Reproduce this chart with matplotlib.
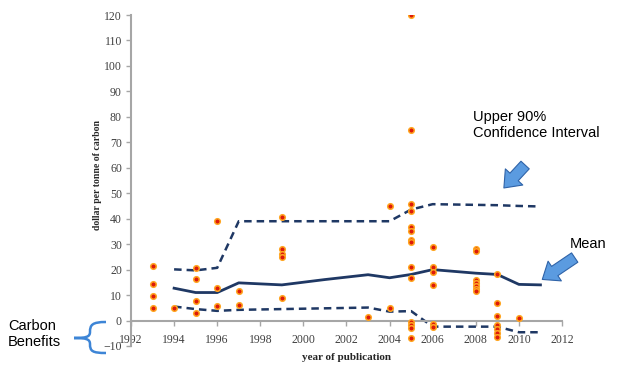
import matplotlib
matplotlib.use("Agg")
import matplotlib.pyplot as plt
from matplotlib.patches import FancyArrowPatch, PathPatch
from matplotlib.path import Path

# scattered study estimates (year, dollar per tonne of carbon)
pt_years = [1993, 1993, 1993, 1993,
            1994,
            1995, 1995, 1995, 1995,
            1996, 1996, 1996,
            1997, 1997,
            1999, 1999, 1999, 1999, 1999,
            2003,
            2004, 2004,
            2005, 2005, 2005, 2005, 2005, 2005, 2005, 2005, 2005, 2005, 2005, 2005, 2005, 2005,
            2006, 2006, 2006, 2006, 2006, 2006,
            2008, 2008, 2008, 2008, 2008, 2008, 2008,
            2009, 2009, 2009, 2009, 2009, 2009, 2009,
            2010]
pt_values = [21.3, 14.2, 9.8, 4.8,
             5.1,
             20.7, 16.4, 7.8, 2.9,
             39.0, 12.9, 5.9,
             11.5, 6.0,
             40.6, 28.1, 26.0, 25.1, 8.8,
             1.3,
             45.0, 5.0,
             120.0, 75.0, 45.9, 43.0, 36.9, 35.0, 31.8, 30.7, 20.9, 16.8, -0.5, -1.6, -2.8, -7.0,
             28.9, 21.0, 18.9, 13.8, -1.3, -2.4,
             28.2, 27.3, 16.1, 14.7, 13.5, 12.5, 11.5,
             18.1, 7.0, 1.7, -1.6, -3.3, -4.8, -6.3,
             0.9]

mean_years = [1994, 1995, 1996, 1997, 1999, 2001, 2003, 2004, 2005, 2006, 2008, 2009, 2010, 2011]
mean_values = [12.7, 11.0, 11.0, 14.8, 14.0, 16.1, 18.0, 16.8, 18.1, 20.0, 18.6, 18.1, 14.2, 14.0]

ci_years = [1994, 1995, 1996, 1997, 1999, 2003, 2004, 2005, 2006, 2009, 2010, 2011]
upper_values = [20.1, 19.7, 20.7, 39.0, 39.0, 39.0, 39.0, 43.6, 45.7, 45.3, 45.0, 44.8]
lower_values = [5.5, 4.5, 3.8, 4.2, 4.5, 5.1, 3.5, 3.7, -2.4, -2.4, -4.6, -4.6]

x_ticks = list(range(1992, 2013, 2))
y_ticks = list(range(-10, 121, 10))

W, H = 625, 380
fig = plt.figure(figsize=(W / 100, H / 100), dpi=100)
ax = fig.add_axes([131 / W, 1 - 346 / H, (562 - 131) / W, (346 - 15) / H])


def px(x, y):
    # figure pixel (from top-left) -> figure fraction
    return (x / W, 1 - y / H)


navy = '#1f3864'
ax.plot(ci_years, upper_values, color=navy, lw=1.8, ls=(0, (3, 2)), zorder=2)
ax.plot(ci_years, lower_values, color=navy, lw=1.8, ls=(0, (3, 2)), zorder=2)
ax.plot(mean_years, mean_values, color=navy, lw=2.0, zorder=2)
ax.plot(pt_years, pt_values, ls='none', marker='o', markersize=4.0,
        mfc='#dd1a0a', mec='#ffa620', mew=1.1, zorder=3)

ax.set_xlim(1992, 2012)
ax.set_ylim(-10, 120)
ax.set_xticks(x_ticks)
ax.set_yticks(y_ticks)

for s in ['top', 'right']:
    ax.spines[s].set_visible(False)
ax.spines['bottom'].set_position(('data', 0))
for s in ['left', 'bottom']:
    ax.spines[s].set_color('#a6a6a6')
    ax.spines[s].set_linewidth(1.5)
ax.tick_params(axis='both', direction='out', length=3.5, width=1, color='#a6a6a6',
               labelcolor='#404040', labelsize=8.5)
ax.tick_params(axis='x', pad=6)
ax.tick_params(axis='y', pad=3)
for lab in ax.get_xticklabels() + ax.get_yticklabels():
    lab.set_fontfamily('Liberation Serif')

fig.text(98 / W, 1 - 175 / H, 'dollar per tonne of carbon', rotation=90,
         ha='center', va='center', fontsize=7, family='Liberation Serif',
         fontweight='bold', color='#262626')
fig.text(347 / W, 1 - 357 / H, 'year of publication', ha='center', va='center',
         fontsize=8, family='Liberation Serif', fontweight='bold', color='#262626')

# annotations
fig.text(*px(473, 125), 'Upper 90%\nConfidence Interval', ha='left', va='center',
         fontsize=10.5, family='Liberation Sans', color='black', linespacing=1.15)
fig.text(*px(570, 244), 'Mean', ha='left', va='center',
         fontsize=10.5, family='Liberation Sans', color='black')
fig.text(*px(8, 334), 'Carbon\nBenefits', ha='left', va='center',
         fontsize=10.5, family='Liberation Sans', color='black', linespacing=1.2)

arrow_kw = dict(arrowstyle='simple,head_width=1.9,head_length=1.2,tail_width=0.9',
                transform=fig.transFigure, facecolor='#5b9be0', edgecolor='#2f63a8',
                lw=0.8, mutation_scale=9)
fig.patches.append(FancyArrowPatch(px(527, 163), px(502, 190), **arrow_kw))
fig.patches.append(FancyArrowPatch(px(577, 256), px(540, 281), **arrow_kw))

# curly brace
brace_pts = [px(106, 322), px(92, 322), px(90, 325), px(90, 332),
             px(90, 337), px(86, 338), px(74, 338),
             px(86, 338), px(90, 339), px(90, 344),
             px(90, 351), px(92, 353), px(106, 353)]
codes = [Path.MOVETO] + [Path.CURVE4] * 12
fig.patches.append(PathPatch(Path(brace_pts, codes), transform=fig.transFigure,
                             fill=False, edgecolor='#3d85d6', lw=1.8))

fig.savefig('out.png', dpi=100)
